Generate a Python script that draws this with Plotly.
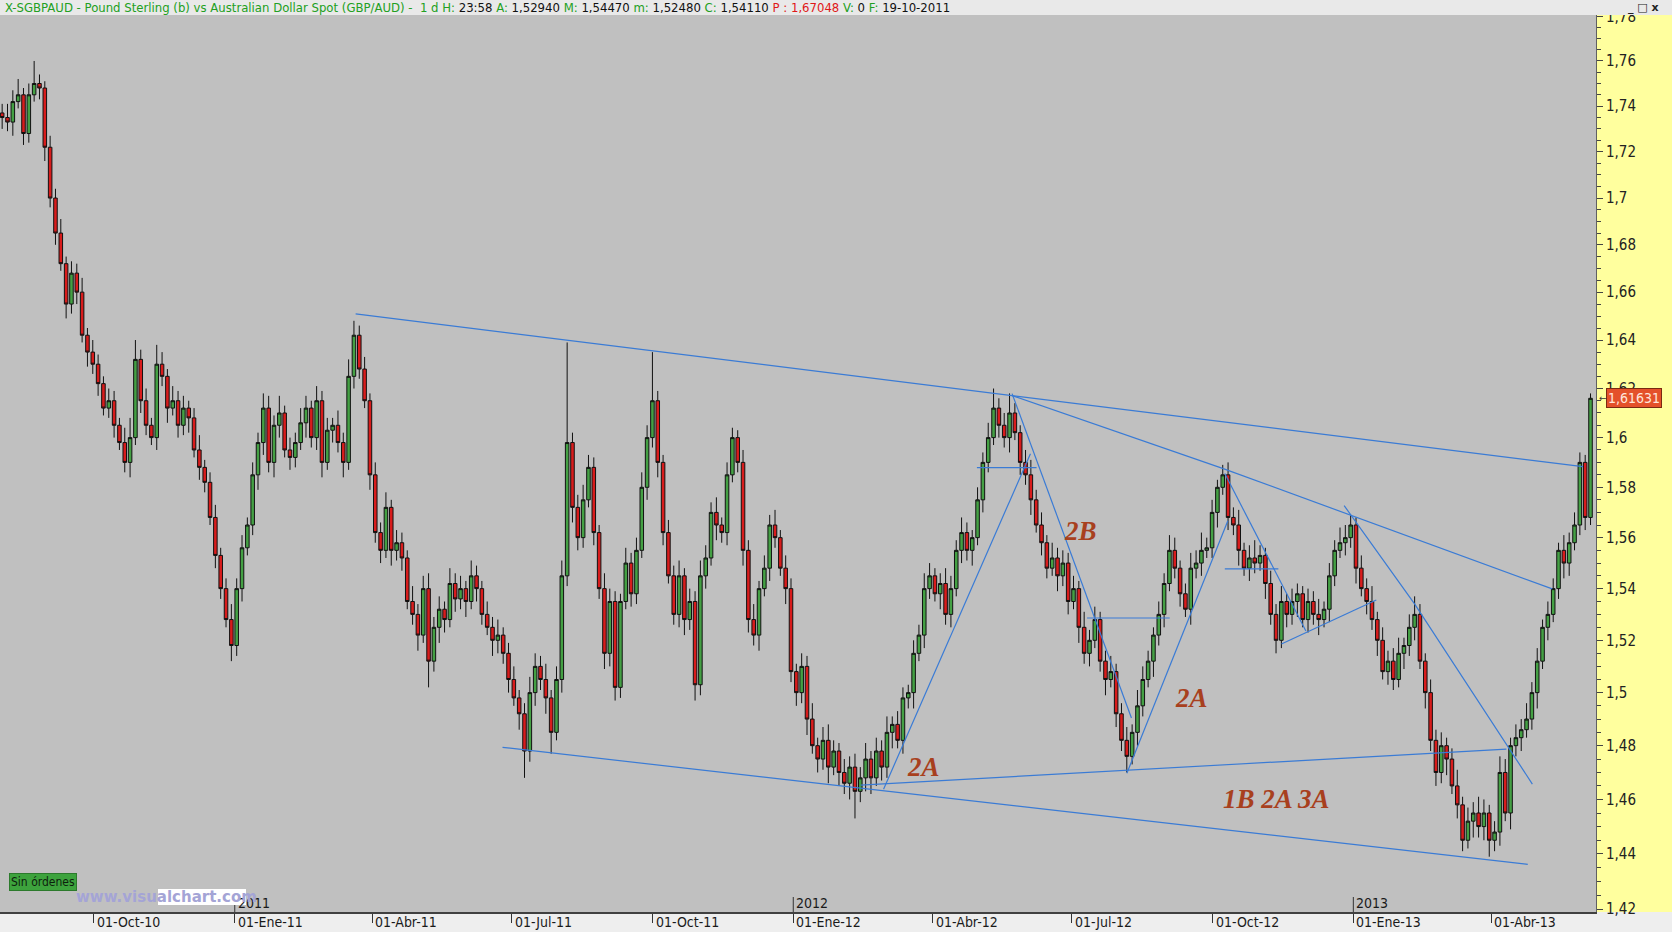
import numpy as np
import pandas as pd
import plotly.graph_objects as go

# ---------------- data ----------------
# closes in thousandths of a unit (1735 -> 1.735)
close_k = [
    1735, 1733, 1742, 1745, 1728, 1745, 1750, 1748, 1722, 1700,
    1685, 1672, 1655, 1668, 1660, 1642, 1635, 1630, 1622, 1612,
    1615, 1605, 1598, 1590, 1600, 1632, 1615, 1605, 1600, 1630,
    1625, 1612, 1615, 1605, 1612, 1608, 1595, 1588, 1582, 1568,
    1553, 1540, 1528, 1518, 1540, 1556, 1565, 1585, 1598, 1612,
    1590, 1605, 1610, 1595, 1592, 1598, 1606, 1612, 1600, 1615,
    1590, 1603, 1605, 1598, 1590, 1625, 1642, 1628, 1615, 1585,
    1562, 1555, 1572, 1555, 1558, 1552, 1535, 1530, 1522, 1540,
    1512, 1525, 1532, 1528, 1542, 1536, 1540, 1535, 1545, 1540,
    1530, 1525, 1520, 1522, 1515, 1505, 1498, 1492, 1478, 1500,
    1510, 1505, 1498, 1485, 1505, 1545, 1598, 1572, 1560, 1575,
    1588, 1562, 1540, 1515, 1535, 1502, 1535, 1550, 1538, 1555,
    1580, 1600, 1615, 1590, 1562, 1545, 1530, 1545, 1528, 1535,
    1503, 1545, 1552, 1570, 1565, 1562, 1585, 1600, 1590, 1555,
    1528, 1522, 1540, 1548, 1565, 1560, 1548, 1540, 1508, 1500,
    1510, 1490, 1480, 1475, 1482, 1472, 1478, 1470, 1466, 1472,
    1463, 1468, 1475, 1468, 1478, 1472, 1485, 1488, 1482, 1498,
    1500, 1515, 1522, 1540, 1545, 1538, 1542, 1530, 1540, 1555,
    1562, 1555, 1560, 1575, 1590, 1600, 1612, 1605, 1600, 1610,
    1602, 1590, 1585, 1575, 1565, 1558, 1548, 1552, 1545, 1550,
    1535, 1540, 1525, 1515, 1520, 1528, 1512, 1505, 1508, 1492,
    1482, 1476, 1485, 1495, 1505, 1512, 1522, 1530, 1542, 1555,
    1548, 1538, 1532, 1548, 1550, 1555, 1556, 1570, 1580, 1585,
    1568, 1565, 1555, 1548, 1552, 1550, 1553, 1542, 1530, 1520,
    1535, 1530, 1535, 1538, 1528, 1535, 1530, 1528, 1532, 1545,
    1555, 1558, 1560, 1565, 1548, 1540, 1535, 1528, 1520, 1508,
    1512, 1505, 1515, 1518, 1525, 1530, 1512, 1500, 1482, 1470,
    1480, 1475, 1465, 1458, 1445, 1452, 1455, 1450, 1455, 1445,
    1448, 1470, 1455, 1480, 1483, 1486, 1490, 1500, 1512, 1525,
    1530, 1540, 1555, 1550, 1558, 1565, 1590, 1568, 1616,
]
upper_wick_k = [
    4, 6, 5, 7, 3, 5, 10, 4, 3, 5,
    4, 6, 3, 5, 4, 6, 3, 5, 4, 3,
    5, 4, 3, 6, 8, 8, 4, 5, 3, 8,
    5, 3, 6, 4, 5, 3, 4, 6, 3, 4,
    5, 3, 4, 6, 4, 5, 3, 5, 4, 6,
    5, 4, 7, 3, 5, 4, 6, 5, 3, 6,
    4, 5, 3, 6, 4, 7, 6, 4, 5, 3,
    5, 4, 6, 3, 5, 4, 3, 6, 4, 5,
    6, 4, 5, 3, 6, 4, 5, 3, 6, 4,
    3, 5, 4, 6, 3, 4, 5, 3, 4, 6,
    5, 4, 6, 3, 5, 6, 41, 4, 5, 6,
    5, 4, 3, 6, 5, 4, 3, 6, 4, 5,
    6, 5, 20, 4, 3, 5, 4, 6, 3, 5,
    4, 6, 5, 4, 6, 3, 5, 4, 3, 5,
    4, 6, 3, 5, 4, 6, 3, 5, 4, 3,
    5, 4, 6, 3, 5, 6, 4, 3, 5, 4,
    5, 4, 6, 3, 5, 4, 6, 3, 5, 4,
    3, 5, 4, 6, 5, 3, 4, 6, 5, 4,
    6, 4, 3, 5, 4, 6, 8, 4, 5, 8,
    4, 3, 5, 6, 4, 5, 3, 6, 4, 5,
    4, 5, 3, 6, 4, 5, 3, 4, 6, 3,
    4, 5, 3, 6, 5, 4, 3, 5, 4, 6,
    5, 3, 4, 6, 5, 7, 4, 5, 3, 4,
    5, 4, 6, 3, 5, 7, 4, 3, 5, 4,
    6, 3, 5, 4, 3, 5, 4, 6, 3, 5,
    4, 6, 5, 4, 3, 5, 4, 6, 3, 5,
    4, 5, 6, 3, 5, 7, 4, 3, 5, 4,
    5, 3, 4, 6, 3, 5, 4, 6, 5, 3,
    4, 6, 5, 3, 5, 4, 6, 4, 5, 3,
    5, 4, 3, 6, 4, 5, 4, 3, 2,
]
lower_wick_k = [
    5, 4, 6, 3, 5, 4, 3, 5, 6, 4,
    5, 3, 6, 4, 5, 3, 6, 4, 5, 3,
    4, 5, 3, 4, 6, 3, 5, 4, 3, 5,
    4, 6, 3, 5, 4, 6, 3, 5, 4, 3,
    5, 4, 3, 6, 4, 5, 3, 4, 6, 5,
    4, 6, 5, 3, 5, 4, 3, 6, 4, 5,
    6, 3, 5, 4, 6, 3, 5, 4, 3, 6,
    4, 5, 3, 6, 4, 5, 3, 4, 6, 3,
    10, 4, 6, 5, 3, 5, 4, 6, 3, 5,
    4, 3, 6, 5, 4, 5, 3, 6, 10, 4,
    5, 4, 6, 8, 3, 5, 4, 6, 5, 4,
    3, 5, 4, 6, 5, 5, 4, 3, 5, 4,
    3, 5, 4, 6, 5, 3, 4, 5, 6, 4,
    6, 4, 5, 3, 6, 4, 5, 3, 4, 6,
    5, 4, 6, 3, 5, 4, 3, 6, 4, 5,
    4, 6, 3, 5, 4, 6, 3, 5, 4, 6,
    10, 4, 5, 6, 3, 5, 4, 6, 3, 5,
    4, 6, 3, 5, 4, 3, 6, 4, 5, 3,
    5, 4, 6, 3, 5, 4, 3, 5, 4, 6,
    3, 5, 4, 6, 3, 5, 4, 3, 6, 4,
    5, 3, 6, 4, 5, 3, 4, 6, 3, 5,
    4, 6, 3, 5, 4, 3, 6, 4, 5, 3,
    4, 5, 3, 6, 4, 5, 3, 4, 6, 3,
    5, 4, 6, 3, 5, 4, 3, 6, 4, 5,
    3, 5, 4, 6, 3, 5, 4, 6, 3, 5,
    4, 3, 5, 4, 6, 3, 5, 4, 6, 3,
    5, 4, 3, 6, 4, 5, 3, 6, 4, 5,
    4, 6, 3, 5, 4, 3, 6, 4, 5, 6,
    4, 5, 3, 6, 4, 5, 3, 4, 6, 3,
    5, 3, 4, 6, 5, 3, 4, 5, 3,
]
first_open = 1.737
first_date, last_date = "2010-08-02", "2013-06-05"

# trend lines drawn on the chart: (dates, prices)
trend_lines = [
    (["2011-03-21", "2013-05-31"], [1.6509, 1.5883]),
    (["2011-06-25", "2013-04-25"], [1.4794, 1.4362]),
    (["2012-02-14", "2013-04-11"], [1.4653, 1.4787]),
    (["2012-02-29", "2012-06-04"], [1.4638, 1.5935]),
    (["2012-04-30", "2012-06-08"], [1.5879, 1.5879]),
    (["2012-05-23", "2012-08-09"], [1.6179, 1.4904]),
    (["2012-05-23", "2012-10-08"], [1.6171, 1.5875]),
    (["2012-10-08", "2013-05-11"], [1.5875, 1.5399]),
    (["2012-07-11", "2012-09-03"], [1.5286, 1.5286]),
    (["2012-08-06", "2012-10-11"], [1.4697, 1.5667]),
    (["2012-10-09", "2012-12-01"], [1.5855, 1.5236]),
    (["2012-10-09", "2012-11-13"], [1.5477, 1.5477]),
    (["2012-11-15", "2013-01-16"], [1.5186, 1.5356]),
    (["2012-12-26", "2013-02-10", "2013-04-28"], [1.5727, 1.5341, 1.4657]),
]

# wave labels
label_text = ["2B", "2A", "2A", "1B 2A 3A"]
label_dates = ["2012-07-07", "2012-09-17", "2012-03-26", "2012-11-12"]
label_prices = [1.5627, 1.4980, 1.4720, 1.4601]

# axis ticks
x_tick_dates = ["2010-10-01", "2011-01-01", "2011-04-01", "2011-07-01", "2011-10-01",
                "2012-01-01", "2012-04-01", "2012-07-01", "2012-10-01", "2013-01-01",
                "2013-04-01"]
x_tick_text = ["01-Oct-10", "01-Ene-11", "01-Abr-11", "01-Jul-11", "01-Oct-11",
               "01-Ene-12", "01-Abr-12", "01-Jul-12", "01-Oct-12", "01-Ene-13",
               "01-Abr-13"]
year_dates = ["2011-01-01", "2012-01-01", "2013-01-01"]
year_text = ["2011", "2012", "2013"]
y_major = [1.42, 1.44, 1.46, 1.48, 1.50, 1.52, 1.54, 1.56, 1.58, 1.60,
           1.62, 1.64, 1.66, 1.68, 1.70, 1.72, 1.74, 1.76, 1.78]
y_major_text = ["1,42", "1,44", "1,46", "1,48", "1,5", "1,52", "1,54", "1,56", "1,58", "1,6",
                "1,62", "1,64", "1,66", "1,68", "1,7", "1,72", "1,74", "1,76", "1,78"]
y_minor = [1.425, 1.43, 1.435, 1.445, 1.45, 1.455, 1.465, 1.47, 1.475, 1.485, 1.49, 1.495,
           1.505, 1.51, 1.515, 1.525, 1.53, 1.535, 1.545, 1.55, 1.555, 1.565, 1.57, 1.575,
           1.585, 1.59, 1.595, 1.605, 1.61, 1.615, 1.625, 1.63, 1.635, 1.645, 1.65, 1.655,
           1.665, 1.67, 1.675, 1.685, 1.69, 1.695, 1.705, 1.71, 1.715, 1.725, 1.73, 1.735,
           1.745, 1.75, 1.755, 1.765, 1.77, 1.775]
last_price = 1.61631
last_price_text = "1,61631"

# ---------------- build ----------------
dates = pd.date_range(first_date, last_date, periods=len(close_k))
close = np.array(close_k) / 1000.0
open_ = np.concatenate([[first_open], close[:-1]])
high = np.maximum(open_, close) + np.array(upper_wick_k) / 1000.0
low = np.minimum(open_, close) - np.array(lower_wick_k) / 1000.0

W, H = 1672, 932
ML, MR, MT, MB = 0, 76, 15, 20
PW, PH = W - ML - MR, H - MT - MB
NARROW = "Liberation Sans Narrow, DejaVu Sans Condensed, Arial Narrow, sans-serif"
LINE_BLUE = "#3a7bd5"

fig = go.Figure()
fig.add_trace(go.Candlestick(
    x=dates, open=open_, high=high, low=low, close=close,
    increasing=dict(fillcolor="#44a044", line=dict(color="#111111", width=1)),
    decreasing=dict(fillcolor="#d81c1c", line=dict(color="#111111", width=1)),
    whiskerwidth=0, showlegend=False, hoverinfo="skip",
))

lx, ly = [], []
for ds, ps in trend_lines:
    lx += ds + [None]
    ly += ps + [None]
fig.add_trace(go.Scatter(x=lx, y=ly, mode="lines",
                         line=dict(color=LINE_BLUE, width=1.2),
                         showlegend=False, hoverinfo="skip"))

annotations = []
for t, d, p in zip(label_text, label_dates, label_prices):
    annotations.append(dict(
        x=d, y=np.log10(p), xref="x", yref="y", text=f"<b><i>{t}</i></b>",
        showarrow=False, font=dict(family="Liberation Serif, Times New Roman, serif",
                                   size=27, color="#a8401e")))

for d, t in zip(x_tick_dates, x_tick_text):
    annotations.append(dict(x=d, y=0, xref="x", yref="paper", text=t, showarrow=False,
                            xanchor="left", yanchor="top", xshift=1, yshift=0,
                            font=dict(family=NARROW, size=14, color="#1a1a1a")))
shapes = []
for d, t in zip(year_dates, year_text):
    annotations.append(dict(x=d, y=0, xref="x", yref="paper", text=t, showarrow=False,
                            xanchor="left", yanchor="bottom", xshift=1, yshift=-1,
                            font=dict(family=NARROW, size=14, color="#1a1a1a")))
    shapes.append(dict(type="line", xref="x", yref="paper", x0=d, x1=d,
                       y0=0, y1=15 / PH, line=dict(color="#333333", width=1)))

# header
g = "#22a022"
k = "#111111"
r = "#e01818"
def sp(c, s):
    return f'<span style="color:{c}">{s}</span>'
header = (sp(g, "X-SGBPAUD - Pound Sterling (b) vs Australian Dollar Spot (GBP/AUD) -  1 d H: ")
          + sp(k, "23:58 ") + sp(g, "A: ") + sp(k, "1,52940 ") + sp(g, "M: ")
          + sp(k, "1,54470 ") + sp(g, "m: ") + sp(k, "1,52480 ") + sp(g, "C: ")
          + sp(k, "1,54110 ") + sp(r, "P : 1,67048 ") + sp(g, "V: ") + sp(k, "0 ")
          + sp(g, "F: ") + sp(k, "19-10-2011"))
annotations.append(dict(x=0.002, y=1 + 7.5 / PH, xref="paper", yref="paper", text=header,
                        showarrow=False, xanchor="left", yanchor="middle",
                        font=dict(family=NARROW, size=13)))
annotations.append(dict(x=1 + 30 / PW, y=1 + 7 / PH, xref="paper", yref="paper",
                        text="<b>_ □ x</b>", showarrow=False, xanchor="left",
                        yanchor="middle",
                        font=dict(family="DejaVu Sans", size=11, color="#222222")))

# last price marker
annotations.append(dict(x=1 + 10 / PW, y=np.log10(last_price), xref="paper", yref="y",
                        text=last_price_text, showarrow=False, xanchor="left",
                        yanchor="middle", bgcolor="#e4512a", bordercolor="#7a2a12",
                        borderwidth=1, borderpad=1,
                        font=dict(family=NARROW, size=14, color="#ffe6dc")))
annotations.append(dict(x=1 + 1 / PW, y=np.log10(last_price), xref="paper", yref="y",
                        text="←", showarrow=False, xanchor="left", yanchor="middle",
                        font=dict(family="DejaVu Sans", size=9, color="#333333")))

# bottom-left badges
annotations.append(dict(x=8.5 / PW, y=(912 - 882) / PH, xref="paper", yref="paper",
                        text="Sin órdenes", showarrow=False, xanchor="left",
                        yanchor="middle", bgcolor="#3da33d", bordercolor="#2c7a2c",
                        borderwidth=1, borderpad=1,
                        font=dict(family=NARROW, size=12, color="#0d1f0d")))
shapes.append(dict(type="rect", xref="paper", yref="paper", x0=158 / PW, x1=246 / PW,
                   y0=(912 - 905) / PH, y1=(912 - 889) / PH, fillcolor="#ffffff",
                   line=dict(width=0), layer="above"))
annotations.append(dict(x=74 / PW, y=(912 - 897) / PH, xref="paper", yref="paper",
                        text="<b>www.visualchart.com</b>", showarrow=False, xanchor="left",
                        yanchor="middle",
                        font=dict(family="DejaVu Sans, sans-serif", size=15, color="#a4a4d6")))

# background panels
shapes.append(dict(type="rect", xref="paper", yref="paper", x0=1, x1=1 + MR / PW,
                   y0=0, y1=1, fillcolor="#ffff9e", line=dict(width=0), layer="below"))
shapes.append(dict(type="rect", xref="paper", yref="paper", x0=0, x1=1 + MR / PW,
                   y0=1, y1=1 + MT / PH, fillcolor="#e9e9e9", line=dict(width=0),
                   layer="above"))

fig.update_layout(
    width=W, height=H,
    margin=dict(l=ML, r=MR, t=MT, b=MB, pad=0),
    paper_bgcolor="#eeeeee", plot_bgcolor="#c0c0c0",
    showlegend=False, boxgap=0.05,
    annotations=annotations, shapes=shapes,
    xaxis=dict(type="date", range=["2010-07-31 14:00", "2013-06-08 14:00"],
               showgrid=False, zeroline=False, rangeslider=dict(visible=False),
               tickvals=x_tick_dates, ticks="outside", ticklen=9, tickcolor="#333333",
               showticklabels=False, showline=True, linecolor="#404040", linewidth=1.5,
               automargin=False, fixedrange=True),
    yaxis=dict(type="log", range=[np.log10(1.419), np.log10(1.7806)], side="right",
               showgrid=False, zeroline=False, tickmode="array", tickvals=y_major,
               ticktext=y_major_text, ticks="outside", ticklen=6, tickcolor="#444444",
               tickfont=dict(family=NARROW, size=15, color="#222222"),
               minor=dict(tickmode="array", tickvals=y_minor, ticks="outside", ticklen=4,
                          tickcolor="#444444", showgrid=False),
               showline=True, linecolor="#606060", linewidth=1, automargin=False,
               fixedrange=True),
)

fig.write_html(
    "out.html",
    config={"displayModeBar": False},
    post_script="document.body.style.margin='0px';document.body.style.padding='0px';"
                "document.body.style.overflow='hidden';",
)
